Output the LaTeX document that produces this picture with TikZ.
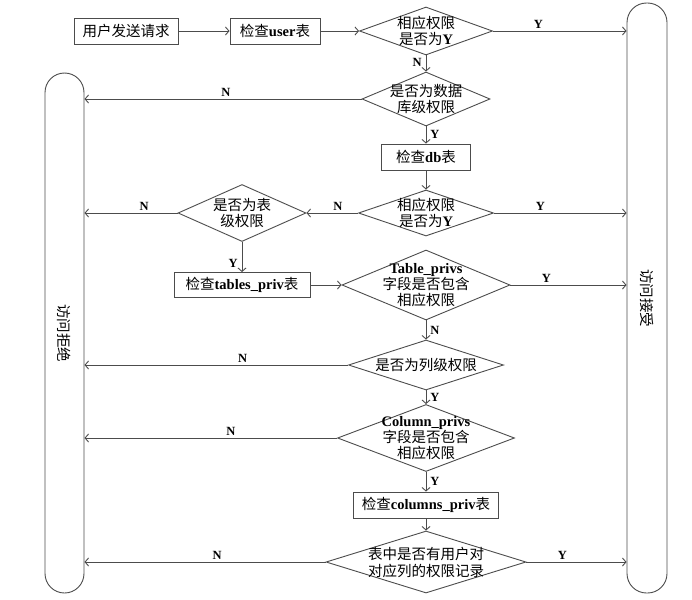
\documentclass[tikz,border=0pt]{standalone}
\usepackage{fontspec}
\setmainfont{Liberation Serif}
\newfontfamily\cjk{Noto Sans CJK SC}
\usetikzlibrary{shapes.geometric,arrows.meta}
\newcommand{\lt}[1]{{\rmfamily\bfseries #1}}
\definecolor{linec}{gray}{0.3}
\begin{document}
\begin{tikzpicture}[x=1pt,y=-1pt,
  every node/.style={font=\cjk\fontsize{14.5}{16}\selectfont},
  box/.style={draw=linec, line width=0.9pt, minimum height=26pt, inner sep=0pt},
  dia/.style={draw=linec, diamond, line width=0.9pt, inner sep=0pt},
  term/.style={draw=linec, line width=0.9pt, rounded corners=19.5pt, minimum width=39pt, inner sep=0pt},
  txt/.style={align=center, inner sep=0pt},
  conn/.style={draw=linec, line width=0.9pt, -{Straight Barb[length=3.5pt,width=8pt]}},
  lbl/.style={font=\rmfamily\fontsize{12.5}{12}\selectfont\bfseries, inner sep=1pt, text=black}
]
\useasboundingbox (0,0) rectangle (692,599);

% terminators
\node[term, minimum height=520pt] (L) at (64.5,333) {};
\node[txt, rotate=-90] (Lt) at (L) {访问拒绝};
\node[term, minimum height=590pt, minimum width=40pt] (R) at (647,298) {};
\node[txt, rotate=-90] (Rt) at (R) {访问接受};

% boxes and diamonds
\node[box, minimum width=104pt] (b1) at (126,31) {用户发送请求};
\node[box, minimum width=90pt] (b2) at (275,31) {检查\lt{user}表};
\node[dia, minimum width=133pt, minimum height=48pt] (d1) at (426,31) {};
\node[txt] (d1t) at (d1) {相应权限\\是否为\lt{Y}};
\node[dia, minimum width=128pt, minimum height=54pt] (d2) at (426,99) {};
\node[txt] (d2t) at (d2) {是否为数据\\库级权限};
\node[box, minimum width=89pt] (b3) at (426,157) {检查\lt{db}表};
\node[dia, minimum width=135pt, minimum height=46pt] (d3) at (426,213) {};
\node[txt] (d3t) at (d3) {相应权限\\是否为\lt{Y}};
\node[dia, minimum width=128pt, minimum height=57pt] (d4) at (242,213) {};
\node[txt] (d4t) at (d4) {是否为表\\级权限};
\node[box, minimum width=136pt, minimum height=25pt] (b4) at (242,285) {检查\lt{tables\_priv}表};
\node[dia, minimum width=168pt, minimum height=70pt] (d5) at (426,285) {};
\node[txt] (d5t) at (d5) {\lt{Table\_privs}\\字段是否包含\\相应权限};
\node[dia, minimum width=155pt, minimum height=50pt] (d6) at (426,365) {};
\node[txt] (d6t) at (d6) {是否为列级权限};
\node[dia, minimum width=177pt, minimum height=67pt] (d7) at (426,438) {};
\node[txt] (d7t) at (d7) {\lt{Column\_privs}\\字段是否包含\\相应权限};
\node[box, minimum width=145pt] (b5) at (426,505) {检查\lt{columns\_priv}表};
\node[dia, minimum width=200pt, minimum height=62pt] (d8) at (426,562) {};
\node[txt, font=\cjk\fontsize{14.5}{17}\selectfont] (d8t) at (d8) {表中是否有用户对\\对应列的权限记录};

% connectors
\draw[conn] (b1) -- (b2);
\draw[conn] (b2) -- (d1);
\draw[conn] (d1.east) -- (d1.east -| R.west) node[lbl, above=1pt, pos=0.34] {Y};
\draw[conn] (d1) -- (d2) node[lbl, left=3pt, pos=0.45] {N};
\draw[conn] (d2.west) -- (d2.west -| L.east) node[lbl, above=1pt, pos=0.49] {N};
\draw[conn] (d2) -- (b3) node[lbl, right=3pt, pos=0.45] {Y};
\draw[conn] (b3) -- (d3);
\draw[conn] (d3.east) -- (d3.east -| R.west) node[lbl, above=1pt, pos=0.35] {Y};
\draw[conn] (d3) -- (d4) node[lbl, above=1pt, pos=0.39] {N};
\draw[conn] (d4.west) -- (d4.west -| L.east) node[lbl, above=1pt, pos=0.36] {N};
\draw[conn] (d4) -- (b4) node[lbl, left=3pt, pos=0.7] {Y};
\draw[conn] (b4) -- (d5);
\draw[conn] (d5.east) -- (d5.east -| R.west) node[lbl, above=1pt, pos=0.31] {Y};
\draw[conn] (d5) -- (d6) node[lbl, right=3pt, pos=0.5] {N};
\draw[conn] (d6.west) -- (d6.west -| L.east) node[lbl, above=1pt, pos=0.40] {N};
\draw[conn] (d6) -- (d7) node[lbl, right=3pt, pos=0.5] {Y};
\draw[conn] (d7.west) -- (d7.west -| L.east) node[lbl, above=1pt, pos=0.42] {N};
\draw[conn] (d7) -- (b5) node[lbl, right=3pt, pos=0.5] {Y};
\draw[conn] (b5) -- (d8);
\draw[conn] (d8.west) -- (d8.west -| L.east) node[lbl, above=1pt, pos=0.45] {N};
\draw[conn] (d8.east) -- (d8.east -| R.west) node[lbl, above=1pt, pos=0.36] {Y};
\end{tikzpicture}
\end{document}
